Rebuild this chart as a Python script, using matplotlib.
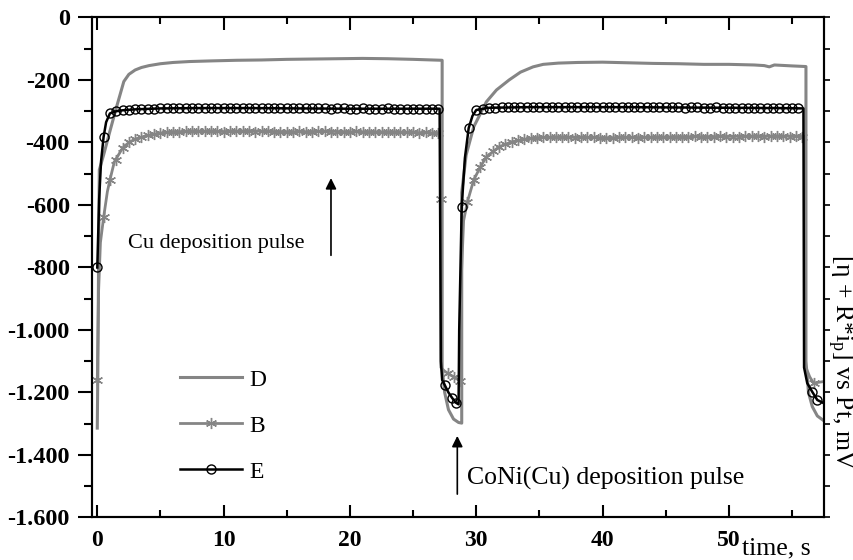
import matplotlib as mpl
mpl.use('Agg')
from matplotlib import pyplot as plt
from matplotlib.lines import Line2D
from matplotlib.ticker import MultipleLocator
import numpy as np

plt.rcParams['font.family'] = 'Liberation Serif'
plt.rcParams['mathtext.fontset'] = 'custom'
plt.rcParams['mathtext.rm'] = 'Liberation Serif'
plt.rcParams['mathtext.it'] = 'Liberation Serif:italic'

################################
## Data ##
################################
# curve D : gray line, no markers
t_D = [0, 0.05, 0.1, 0.16, 0.5, 1.0, 1.5, 2.1, 2.5, 3.0, 3.5, 4.1, 5, 6, 7.3,
       9, 11, 13, 15, 17, 19, 21, 23, 25, 27.3, 27.3, 27.5, 27.8, 28.2, 28.6,
       28.85, 28.85, 29.2, 29.8, 30.8, 31.6, 32.6, 33.5, 34.5, 35.3, 36.5, 38, 40, 42, 44,
       46, 48, 50, 52, 52.8, 53.2, 53.6, 55, 56.1, 56.1, 56.3, 56.6, 57.0, 57.5]
v_D = [-1314, -1100, -800, -488, -440, -364, -290, -205, -182, -168, -160, -154, -148, -144, -141,
       -139, -137, -136, -134, -133, -132, -131, -132, -134, -137, -1120, -1200, -1255, -1285, -1296,
       -1298, -560, -440, -350, -270, -232, -200, -175, -158, -150, -146, -144, -143, -145, -147,
       -148, -150, -150, -152, -154, -158, -152, -155, -157, -1100, -1200, -1245, -1275, -1290]

# curve B : gray line with star markers
t_B = [0, 0.1, 0.25, 0.5, 0.8, 1.0, 1.35, 2.0, 2.5, 3.0, 4, 5, 6, 8, 10,
       12, 14, 16, 18, 20, 22, 24, 26, 27.2, 27.2, 27.5, 28.0, 28.7, 28.75, 29.0,
       29.3, 29.8, 30.3, 30.8, 31.8, 32.8, 33.8, 35, 37, 40, 43, 46, 49, 52, 55,
       56.0, 56.0, 56.4, 56.7, 57.5]
v_B = [-1160, -880, -720, -640, -557, -520, -462, -418, -400, -389, -377, -370, -366, -364, -365,
       -363, -365, -366, -364, -366, -366, -367, -369, -370, -1120, -1132, -1145, -1162, -900, -650,
       -590, -520, -480, -446, -414, -398, -390, -384, -383, -385, -384, -382, -381, -380, -380,
       -381, -1110, -1150, -1170, -1165]
# star markers
tB_mk = np.concatenate([np.arange(0, 27.01, 0.5), [27.2, 27.75, 28.25, 28.7],
                        np.arange(29.3, 55.81, 0.5), [56.7]])
vB_mk = [-1160, -640, -520, -455, -418, -400, -389, -382, -377, -373,
         -370, -368, -366, -365, -364, -363, -364, -362, -363, -364,
         -365, -364, -363, -362, -364, -365, -363, -364, -366, -365,
         -366, -365, -364, -365, -366, -364, -363, -365, -366, -365,
         -366, -364, -365, -366, -367, -366, -365, -367, -368, -367,
         -368, -369, -368, -369, -370,
         -580, -1138, -1150, -1162,
         -590, -520, -480, -446, -428, -414, -405, -398, -393, -390,
         -387, -385, -384, -383, -382, -383, -384, -385, -384, -383,
         -384, -385, -386, -385, -384, -383, -384, -385, -384, -383,
         -382, -383, -382, -381, -382, -381, -380, -381, -382, -381,
         -380, -381, -382, -381, -380, -379, -380, -381, -380, -379,
         -380, -381, -380, -381,
         -1170]

# curve E : black line with open circles
t_E = [0, 0.15, 0.3, 0.5, 0.7, 1.0, 1.5, 2.0, 3.0, 5.0, 8, 12, 16, 20, 24,
       27.1, 27.2, 27.3, 27.5, 27.8, 28.1, 28.4, 28.6, 28.65, 28.85, 29.1, 29.4, 29.7, 30.0, 31,
       34, 38, 42, 46, 50, 54, 55.9, 55.95, 56.2, 56.6, 57.0, 57.4]
v_E = [-800, -580, -460, -382, -335, -307, -300, -297, -294, -291, -290, -290, -291, -292, -292,
       -292, -1100, -1160, -1176, -1200, -1218, -1233, -1238, -1000, -605, -450, -354, -315, -296, -289,
       -287, -287, -287, -288, -289, -290, -291, -1120, -1170, -1198, -1224, -1232]
tE_mk = np.concatenate([np.arange(0, 27.01, 0.5), [27.5, 28.1, 28.4, 28.85, 29.4, 30.0],
                        np.arange(30.5, 55.51, 0.5), [56.6, 57.0]])
vE_mk = [-800, -382, -307, -300, -297, -295, -294, -293, -292, -292,
         -291, -291, -290, -290, -290, -289, -289, -290, -290, -290,
         -289, -290, -290, -290, -291, -290, -290, -291, -291, -290,
         -290, -291, -291, -291, -290, -291, -291, -292, -291, -291,
         -292, -292, -291, -292, -292, -292, -291, -292, -292, -292,
         -293, -292, -292, -293, -292,
         -1176, -1218, -1233, -605, -354, -296,
         -292, -290, -289, -288, -288, -288, -287, -287, -287, -287,
         -287, -286, -287, -287, -286, -286, -287, -287, -286, -287,
         -287, -287, -287, -288, -287, -287, -288, -287, -288, -288,
         -288, -288, -289, -288, -288, -289, -289, -288, -289, -289,
         -289, -290, -289, -290, -290, -290, -290, -291, -290, -291,
         -291,
         -1198, -1224]

labels = ['D', 'B', 'E']
yticks = [0, -200, -400, -600, -800, -1000, -1200, -1400, -1600]
yticklabels = ['0', '-200', '-400', '-600', '-800', '-1.000', '-1.200', '-1.400', '-1.600']
xticks = [0, 10, 20, 30, 40, 50]
xticklabels = ['0', '10', '20', '30', '40', '50']

gray = '#858585'
star = (6, 2, 0)

################################
## Plot                       ##
################################
fig = plt.figure(figsize=(8.54, 5.6), dpi=100)
ax = fig.add_axes([0.1077, 0.0759, 0.8572, 0.8929])

ax.plot(t_D, v_D, color=gray, lw=2.2, zorder=2)
ax.plot(t_B, v_B, color=gray, lw=2.0, zorder=3)
ax.plot(tB_mk, vB_mk, ls='none', marker=star, ms=8, mew=1.0, color=gray, zorder=3)
ax.plot(t_E, v_E, color='black', lw=1.8, zorder=4)
ax.plot(tE_mk, vE_mk, ls='none', marker='o', ms=6.5, mew=1.0, mfc='none', mec='black', zorder=5)

ax.set_xlim(-0.42, 57.53)
ax.set_ylim(-1600, 0)

ax.set_xticks(xticks)
ax.set_xticklabels(xticklabels, fontweight='bold', fontsize=17)
ax.xaxis.set_minor_locator(MultipleLocator(5))
ax.set_yticks(yticks)
ax.set_yticklabels(yticklabels, fontweight='bold', fontsize=17.5)
ax.yaxis.set_minor_locator(MultipleLocator(100))

ax.tick_params(axis='x', which='both', direction='in', top=True, bottom=True, width=1.5, pad=9)
ax.tick_params(axis='x', which='major', length=9)
ax.tick_params(axis='x', which='minor', length=5)
ax.tick_params(axis='y', which='both', direction='out', width=1.5, pad=6)
ax.tick_params(axis='y', which='major', length=10)
ax.tick_params(axis='y', which='minor', length=6)
for s in ax.spines.values():
    s.set_linewidth(1.5)

ax2 = ax.twinx()
ax2.set_ylim(-1600, 0)
ax2.yaxis.set_major_locator(MultipleLocator(100))
ax2.tick_params(axis='y', direction='out', length=4, width=1.2, labelright=False)
for s in ax2.spines.values():
    s.set_linewidth(1.5)

# legend
handles = [Line2D([], [], color=gray, lw=2.2),
           Line2D([], [], color=gray, lw=2.0, marker=star, ms=8, mew=1.0),
           Line2D([], [], color='black', lw=1.8, marker='o', ms=6.5, mew=1.0, mfc='none')]
ax.legend(handles, labels, loc='upper left', bbox_to_anchor=(180 / 854, 1 - 369 / 560),
          bbox_transform=fig.transFigure, frameon=False, fontsize=17, numpoints=1,
          borderpad=0, borderaxespad=0, handlelength=2.63, handletextpad=0.3, labelspacing=1.04)

# annotations
ax.annotate('', xy=(18.5, -505), xytext=(18.5, -770),
            arrowprops=dict(arrowstyle='-|>', color='black', lw=1.2, mutation_scale=16))
ax.text(16.4, -722, 'Cu deposition pulse', fontsize=16, ha='right', va='center')
ax.annotate('', xy=(28.5, -1330), xytext=(28.5, -1534),
            arrowprops=dict(arrowstyle='-|>', color='black', lw=1.2, mutation_scale=16))
ax.text(29.3, -1474, 'CoNi(Cu) deposition pulse', fontsize=18.5, ha='left', va='center')

fig.text(742 / 854, 1 - 554 / 560, 'time, s', fontsize=18.5, ha='left', va='baseline')
fig.text(840 / 854, 1 - 362 / 560, r'[η + R*i$_{\mathrm{p}}$] vs Pt, mV', fontsize=18.5,
         rotation=270, ha='center', va='center')

fig.savefig('out.png', dpi=100)
